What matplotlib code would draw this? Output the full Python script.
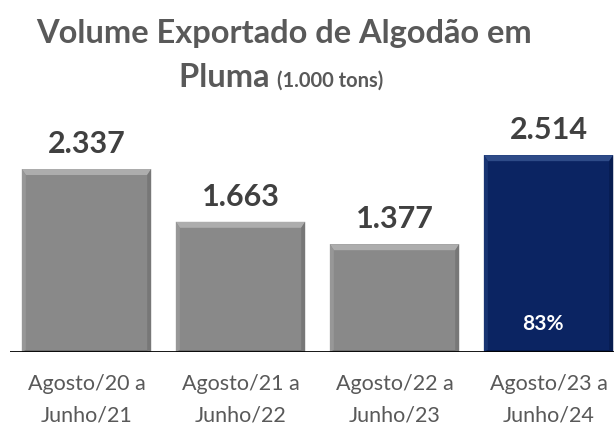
import matplotlib
matplotlib.use("Agg")
import matplotlib.pyplot as plt
from matplotlib.patches import Polygon

categories = ["Agosto/20 a\nJunho/21", "Agosto/21 a\nJunho/22", "Agosto/22 a\nJunho/23", "Agosto/23 a\nJunho/24"]
values = [2337, 1663, 1377, 2514]
value_labels = ["2.337", "1.663", "1.377", "2.514"]
share_label = "83%"

W, H = 614, 426
fig = plt.figure(figsize=(W / 100, H / 100), dpi=100)
ax = fig.add_axes([9.5 / W, 74 / H, (W - 9.5) / W, 252 / H])
ax.set_xlim(-0.5, 3.425)
ax.set_ylim(0, 252 / 0.0783)

gray = "#898989"
navy = "#0b2462"
colors = [gray, gray, gray, navy]
x = list(range(len(values)))
bars = ax.bar(x, values, width=0.84, color=colors, edgecolor="none", zorder=2)

fig.canvas.draw()
inv = ax.transData.inverted()
bev = 5  # px
for b, c in zip(bars, colors):
    x0, y0 = b.get_x(), b.get_y()
    x1, y1 = x0 + b.get_width(), y0 + b.get_height()
    (px0, py0) = ax.transData.transform((x0, y0))
    (px1, py1) = ax.transData.transform((x1, y1))
    def d(px, py):
        return inv.transform((px, py))
    outer = [d(px0, py0), d(px1, py0), d(px1, py1), d(px0, py1)]
    inner = [d(px0 + bev - 1, py0 + 2), d(px1 - bev + 1, py0 + 2), d(px1 - bev + 1, py1 - bev - 1), d(px0 + bev - 1, py1 - bev - 1)]
    if c == gray:
        top_c, left_c, right_c, bot_c = "#adadad", "#979797", "#777777", "#707070"
    else:
        top_c, left_c, right_c, bot_c = "#2e4b88", "#183472", "#071c50", "#061a4a"
    ax.add_patch(Polygon([outer[3], outer[2], inner[2], inner[3]], closed=True, color=top_c, lw=0, zorder=3))
    ax.add_patch(Polygon([outer[0], outer[3], inner[3], inner[0]], closed=True, color=left_c, lw=0, zorder=3))
    ax.add_patch(Polygon([outer[1], outer[2], inner[2], inner[1]], closed=True, color=right_c, lw=0, zorder=3))
    ax.add_patch(Polygon([outer[0], outer[1], inner[1], inner[0]], closed=True, color=bot_c, lw=0, zorder=3))

for xi, v, lab in zip(x, values, value_labels):
    ax.annotate(lab, (xi, v), xytext=(0, 8), textcoords="offset points",
                ha="center", va="bottom", fontsize=22, fontweight="bold",
                color="#404040", family="Lato")

ax.annotate(share_label, (x[-1], 0), xytext=(-4, 20), textcoords="offset points",
            ha="center", va="center", fontsize=15, fontweight="bold",
            color="white", family="Lato", zorder=5)

ax.axhline(0, color="black", lw=2, zorder=4)
for s in ax.spines.values():
    s.set_visible(False)
ax.set_yticks([])
ax.set_xticks(x)
ax.set_xticklabels(categories, fontsize=15.5, color="#595959", family="Lato", linespacing=1.7)
ax.tick_params(axis="x", length=0, pad=16)

fig.text(284 / W, 1 - 34 / H, "Volume Exportado de Algodão em", ha="center", va="center",
         fontsize=23.5, fontweight="bold", color="#595959", family="Lato")
t1 = fig.text(0, 1 - 87 / H, "Pluma ", ha="left", va="baseline",
              fontsize=23.5, fontweight="bold", color="#595959", family="Lato")
t2 = fig.text(0, 1 - 87 / H, "(1.000 tons)", ha="left", va="baseline",
              fontsize=14.5, fontweight="bold", color="#595959", family="Lato")
fig.canvas.draw()
r = fig.canvas.get_renderer()
w1 = t1.get_window_extent(r).width
w2 = t2.get_window_extent(r).width
start = 281 - (w1 + w2) / 2
t1.set_x(start / W)
t2.set_x((start + w1) / W)

fig.savefig("out.png", dpi=100)
